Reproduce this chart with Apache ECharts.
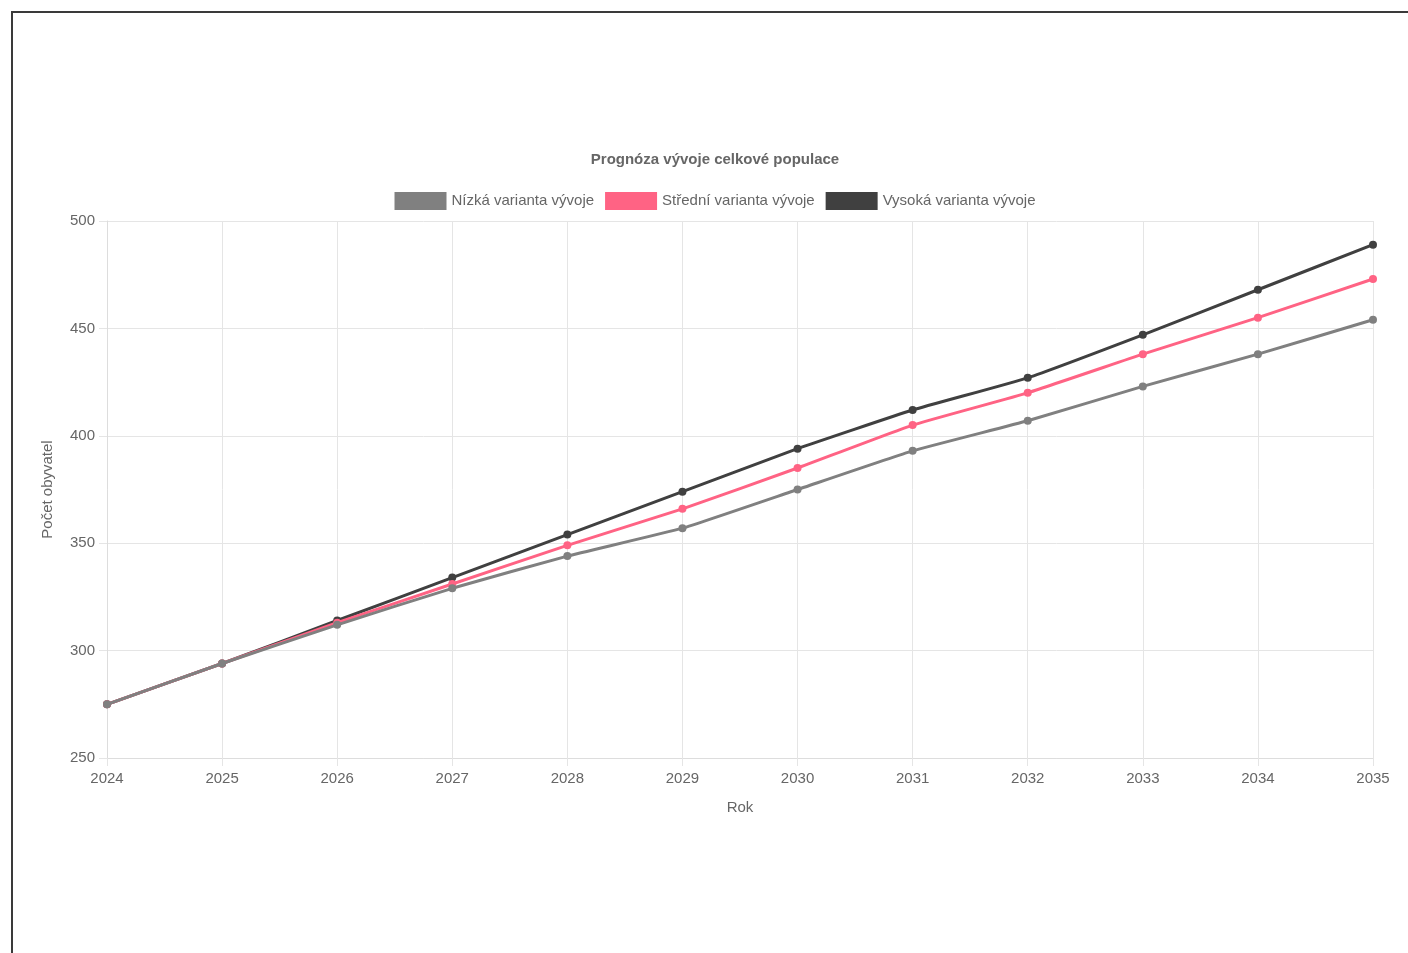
<!DOCTYPE html>
<html>
<head>
<meta charset="utf-8">
<script src="https://cdn.jsdelivr.net/npm/echarts@6/dist/echarts.min.js"></script>
<style>
html,body{margin:0;padding:0;overflow:hidden;background:#fff;width:1408px;height:953px;}
#frame{position:absolute;left:11px;top:11px;width:1500px;height:1100px;border-top:2px solid #3a3a3a;border-left:2px solid #3a3a3a;}
#chart{position:absolute;left:0;top:0;width:1430px;height:953px;}
</style>
</head>
<body>
<div id="frame"></div>
<div id="chart"></div>
<script>
const years = ['2024','2025','2026','2027','2028','2029','2030','2031','2032','2033','2034','2035'];
const lowVariant = [275, 294, 312, 329, 344, 357, 375, 393, 407, 423, 438, 454];
const midVariant = [275, 294, 313, 331, 349, 366, 385, 405, 420, 438, 455, 473];
const highVariant = [275, 294, 314, 334, 354, 374, 394, 412, 427, 447, 468, 489];
const seriesNames = ['Nízká varianta vývoje', 'Střední varianta vývoje', 'Vysoká varianta vývoje'];
const seriesColors = ['#808080', '#ff6384', '#404040'];
const seriesData = [lowVariant, midVariant, highVariant];

const font = '"Liberation Sans", Arial, Helvetica, sans-serif';
const fs = 15;
const chart = echarts.init(document.getElementById('chart'), null, {renderer: 'canvas'});
chart.setOption({
  animation: false,
  textStyle: {fontFamily: font},
  title: {
    text: 'Prognóza vývoje celkové populace',
    left: 'center',
    top: 147,
    textStyle: {fontFamily: font, fontSize: fs, fontWeight: 'bold', color: '#666'}
  },
  legend: {
    top: 187,
    left: 'center',
    itemWidth: 52,
    itemHeight: 18,
    itemGap: 11,
    icon: 'rect',
    textStyle: {fontFamily: font, fontSize: fs, color: '#666'},
    data: seriesNames.map((n, i) => ({name: n, itemStyle: {color: seriesColors[i]}}))
  },
  grid: {left: 107, right: 57, top: 221, bottom: 195, containLabel: false},
  xAxis: {
    type: 'category',
    data: years,
    boundaryGap: false,
    name: 'Rok',
    nameLocation: 'middle',
    nameGap: 42,
    nameTextStyle: {fontFamily: font, fontSize: fs, color: '#666'},
    axisLine: {lineStyle: {color: '#ddd', width: 1}},
    axisTick: {show: true, length: 8, lineStyle: {color: '#e5e5e5'}},
    axisLabel: {fontFamily: font, fontSize: fs, color: '#666', margin: 13},
    splitLine: {show: true, lineStyle: {color: '#e5e5e5', width: 1}}
  },
  yAxis: {
    type: 'value',
    min: 250,
    max: 500,
    interval: 50,
    name: 'Počet obyvatel',
    nameLocation: 'middle',
    nameGap: 52,
    nameTextStyle: {fontFamily: font, fontSize: fs, color: '#666'},
    axisLine: {show: true, lineStyle: {color: '#ddd', width: 1}},
    axisTick: {show: true, length: 8, lineStyle: {color: '#e5e5e5'}},
    axisLabel: {fontFamily: font, fontSize: fs, color: '#666', margin: 12},
    splitLine: {show: true, lineStyle: {color: '#e5e5e5', width: 1}}
  },
  series: seriesNames.map((n, i) => ({
    name: n,
    type: 'line',
    z: 5 - i,
    data: seriesData[i],
    smooth: 0.12,
    symbol: 'circle',
    symbolSize: 8,
    lineStyle: {color: seriesColors[i], width: 3},
    itemStyle: {color: seriesColors[i]},
    emphasis: {disabled: true}
  }))
});
</script>
</body>
</html>
